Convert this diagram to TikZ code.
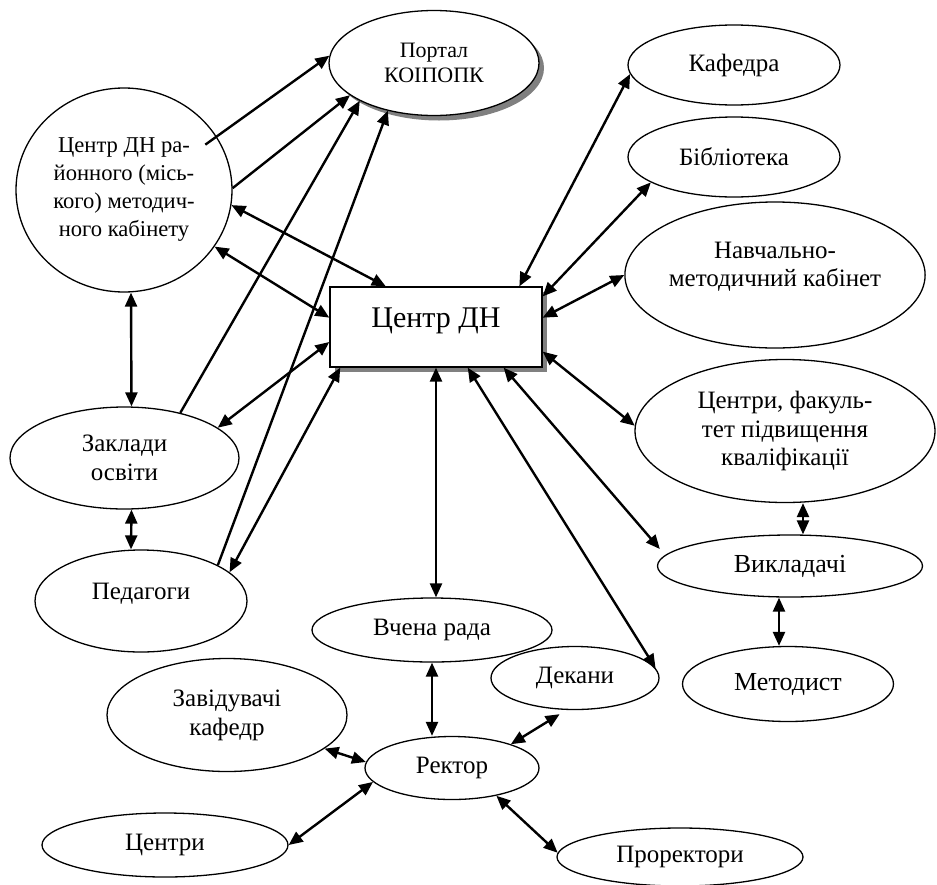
\documentclass[tikz,border=0pt]{standalone}
\usepackage{fontspec}
\setmainfont{Liberation Serif}
\usetikzlibrary{shapes.geometric, arrows.meta, shadows}

\begin{document}
\begin{tikzpicture}[
  x=.5pt, y=-.5pt,
  >={Triangle[length=7pt,width=6pt]},
  oval/.style={ellipse, draw, line width=.65pt, inner sep=0pt, align=center,
    font=\rmfamily\fontsize{12.5}{14.5}\selectfont},
  shade/.style={fill=white, drop shadow={shadow xshift=2.5pt, shadow yshift=-2.5pt,
    fill=black!50, opacity=1}},
  link/.style={<->, line width=1.2pt},
  feed/.style={->, line width=1.2pt}]

  \useasboundingbox (0,0) rectangle (937,884);

  % left side
  \node[oval, shade, minimum width=105pt, minimum height=52.5pt,
    font=\rmfamily\fontsize{11}{12.5}\selectfont] (portal) at (434,63) {Портал\\КОІПОПК};
  \node[oval, minimum width=108pt, minimum height=102pt,
    font=\rmfamily\fontsize{11.3}{14}\selectfont] (rmk) at (124,190)
    {Центр ДН ра-\\йонного (місь-\\кого) методич-\\ного кабінету};
  \node[oval, minimum width=114.5pt, minimum height=51pt] (zaklady) at (124.5,458) {Заклади\\освіти};
  \node[oval, minimum width=106pt, minimum height=51pt, text depth=10pt] (pedag) at (141,601) {Педагоги};

  % centre
  \node[draw, line width=.65pt, shade, minimum width=106pt, minimum height=40pt,
    text depth=9pt, font=\rmfamily\fontsize{15}{18}\selectfont] (centr) at (436,327) {Центр ДН};

  % right side
  \node[oval, minimum width=106pt, minimum height=40pt] (kafedra) at (734,65) {Кафедра};
  \node[oval, minimum width=106pt, minimum height=40pt] (biblio) at (734,157) {Бібліотека};
  \node[oval, minimum width=148pt, minimum height=73pt, text depth=11pt,
    font=\rmfamily\fontsize{12.5}{14}\selectfont] (nmk) at (775,275) {Навчально-\\методичний кабінет};
  \node[oval, minimum width=150pt, minimum height=71.5pt,
    font=\rmfamily\fontsize{12.5}{14.25}\selectfont] (cpk) at (785,431)
    {Центри, факуль-\\тет підвищення\\кваліфікації};
  \node[oval, minimum width=132.5pt, minimum height=31pt, font=\rmfamily\fontsize{13}{15}\selectfont] (vykl) at (790,566) {Викладачі};
  \node[oval, minimum width=105.5pt, minimum height=37.5pt, font=\rmfamily\fontsize{13}{15}\selectfont] (metod) at (788,684) {Методист};

  % bottom
  \node[oval, minimum width=120pt, minimum height=32pt] (vr) at (432,630) {Вчена рада};
  \node[oval, minimum width=84pt, minimum height=31.5pt] (dekany) at (575,678) {Декани};
  \node[oval, minimum width=120pt, minimum height=56.5pt] (zav) at (227,715) {Завідувачі\\кафедр};
  \node[oval, minimum width=87pt, minimum height=31.5pt] (rektor) at (452,768) {Ректор};
  \node[oval, minimum width=123pt, minimum height=32pt] (centry) at (165,845) {Центри};
  \node[oval, minimum width=123pt, minimum height=29pt] (prorekt) at (680,857) {Проректори};

  % to the portal
  \draw[feed, shorten <=-7pt] (rmk.30) -- (portal.176);
  \draw[feed] (rmk.1) -- (portal.201);
  \draw[feed] (zaklady.39) -- (portal.207);
  \draw[feed] (pedag.25) -- (portal.226);

  % left links
  \draw[link] (rmk.-8) -- (centr.141);
  \draw[link] (rmk.-32) -- (centr.175);
  \draw[link] ([xshift=3.5pt]rmk.south) -- ([xshift=3.5pt]zaklady.north);
  \draw[link] (zaklady.18) -- (centr.188);
  \draw[link] ([xshift=3.5pt]zaklady.south) -- ([xshift=-5pt]pedag.north);
  \draw[link] (pedag.18) -- (centr.203);

  % right links
  \draw[link] (centr.26) -- (kafedra.185);
  \draw[link] (centr.16) -- (biblio.197);
  \draw[link] (centr.5) -- (nmk.180);
  \draw[link] (centr.-13) -- (cpk.178);
  \draw[link, shorten >=4pt] (centr.-31) -- (vykl.175);
  \draw[link] (centr.-52) -- (dekany.7);
  \draw[link] ([xshift=9pt]cpk.south) -- ([xshift=6.5pt]vykl.north);
  \draw[link] ([xshift=-5.5pt]vykl.south) -- ([xshift=-4.5pt]metod.north);

  % bottom links
  \draw[link] (centr.south) -- (centr.south |- vr.north);
  \draw[link] (vr.south) -- (vr.south |- rektor.north);
  \draw[link, shorten >=4pt] (rektor.22) -- (dekany.255);
  \draw[link] (zav.-19) -- (rektor.176);
  \draw[link] (centry.0) -- (rektor.190);
  \draw[link] (rektor.-32) -- (prorekt.178);
\end{tikzpicture}
\end{document}
